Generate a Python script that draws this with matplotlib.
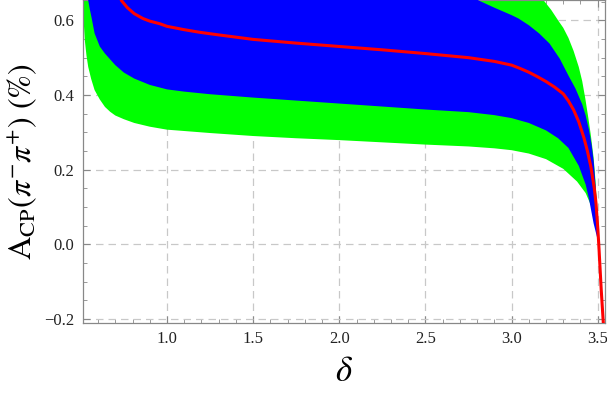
import numpy as np
import matplotlib.pyplot as plt
from matplotlib.ticker import MultipleLocator

plt.rcParams['font.family'] = ['Liberation Serif', 'DejaVu Serif']
plt.rcParams['mathtext.fontset'] = 'stix'

# --- data ---
# central curve (red)
x_mid = [0.70, 0.736, 0.77, 0.81, 0.86, 0.90, 0.958, 1.0, 1.1, 1.19, 1.3, 1.5, 1.75, 2.0,
         2.25, 2.5, 2.75, 2.9, 3.0, 3.05, 3.1, 3.15, 3.2, 3.25, 3.3, 3.33, 3.36, 3.39,
         3.42, 3.44, 3.46, 3.48, 3.49, 3.50, 3.506, 3.52, 3.535]
y_mid = [0.70, 0.653, 0.634, 0.618, 0.605, 0.598, 0.591, 0.584, 0.575, 0.568, 0.561, 0.549,
         0.539, 0.530, 0.521, 0.511, 0.500, 0.490, 0.480, 0.471, 0.461, 0.449, 0.436, 0.421,
         0.403, 0.384, 0.360, 0.328, 0.285, 0.250, 0.208, 0.150, 0.110, 0.045, 0.0, -0.12, -0.23]

# inner band (blue)
x_blue_up = [0.50, 2.70, 2.81, 2.90, 3.0, 3.04, 3.10, 3.16, 3.22, 3.28, 3.33, 3.37, 3.41,
             3.43, 3.45, 3.465, 3.477, 3.487, 3.496, 3.506, 3.535]
y_blue_up = [0.70, 0.68, 0.653, 0.634, 0.614, 0.605, 0.587, 0.565, 0.538, 0.497, 0.452, 0.418,
             0.375, 0.345, 0.305, 0.265, 0.22, 0.16, 0.09, 0.0, -0.23]
x_blue_lo = [0.53, 0.543, 0.552, 0.562, 0.58, 0.61, 0.64, 0.70, 0.75, 0.81, 0.90, 1.0, 1.1,
             1.25, 1.5, 1.75, 2.0, 2.25, 2.5, 2.75, 2.9, 3.0, 3.1, 3.2, 3.27, 3.33, 3.39,
             3.43, 3.45, 3.476, 3.506, 3.535]
y_blue_lo = [0.70, 0.653, 0.630, 0.608, 0.565, 0.530, 0.511, 0.480, 0.460, 0.444, 0.427, 0.415,
             0.409, 0.402, 0.393, 0.385, 0.377, 0.369, 0.361, 0.354, 0.346, 0.338, 0.325, 0.305,
             0.284, 0.258, 0.210, 0.160, 0.120, 0.056, 0.0, -0.23]

# outer band (green)
x_green_up = [0.50, 3.10, 3.187, 3.23, 3.27, 3.30, 3.33, 3.36, 3.39, 3.41, 3.428, 3.445,
              3.46, 3.476, 3.487, 3.496, 3.503, 3.506, 3.535]
y_green_up = [0.70, 0.68, 0.653, 0.628, 0.600, 0.580, 0.553, 0.518, 0.475, 0.437, 0.390, 0.340,
              0.292, 0.232, 0.17, 0.10, 0.04, 0.0, -0.23]
x_green_lo = [0.505, 0.513, 0.523, 0.533, 0.543, 0.56, 0.58, 0.61, 0.64, 0.67, 0.70, 0.75,
              0.81, 0.90, 1.0, 1.25, 1.5, 1.75, 2.0, 2.25, 2.5, 2.75, 2.9, 3.0, 3.1, 3.2,
              3.3, 3.38, 3.43, 3.46, 3.48, 3.495, 3.506, 3.535]
y_green_lo = [0.70, 0.627, 0.547, 0.505, 0.475, 0.443, 0.413, 0.388, 0.368, 0.355, 0.345, 0.335,
              0.325, 0.315, 0.307, 0.298, 0.290, 0.284, 0.279, 0.273, 0.267, 0.262, 0.257, 0.252,
              0.243, 0.228, 0.202, 0.168, 0.137, 0.105, 0.07, 0.03, 0.0, -0.23]

# --- plot ---
fig = plt.figure(figsize=(6.07, 3.95), dpi=100)
ax = fig.add_axes([0.136, 0.182, 0.8615, 0.817])

ax.fill(np.r_[x_green_up, x_green_lo[::-1]], np.r_[y_green_up, y_green_lo[::-1]],
        color='#00ff00', lw=0, zorder=2)
ax.fill(np.r_[x_blue_up, x_blue_lo[::-1]], np.r_[y_blue_up, y_blue_lo[::-1]],
        color='#0000ff', lw=0, zorder=3)
ax.plot(x_mid, y_mid, color='#ff0000', lw=2.2, zorder=4, solid_joinstyle='round')

ax.set_xlim(0.51, 3.545)
ax.set_ylim(-0.2115, 0.6535)

ax.xaxis.set_major_locator(MultipleLocator(0.5))
ax.xaxis.set_minor_locator(MultipleLocator(0.1))
ax.yaxis.set_major_locator(MultipleLocator(0.2))
ax.yaxis.set_minor_locator(MultipleLocator(0.05))
ax.xaxis.set_major_formatter(plt.FuncFormatter(lambda v, p: f"{v:.1f}"))
ax.yaxis.set_major_formatter(plt.FuncFormatter(lambda v, p: f"{v:.1f}".replace('-', '\u2212')))

ax.grid(True, which='major', color='#c8c8c8', ls=(0, (6, 4)), lw=0.9, zorder=1)
for s in ax.spines.values():
    s.set_color('#888888')
    s.set_linewidth(0.9)
ax.tick_params(which='both', direction='in', top=True, right=True, color='#888888',
               labelsize=12, labelcolor='#222222')
ax.tick_params(which='major', length=5, pad=6)
ax.tick_params(which='minor', length=3)

ax.set_xlabel(r'$\delta$', fontsize=25, labelpad=6)
ax.set_ylabel(r'$\mathrm{A}_{\mathrm{CP}}(\pi^{-}\pi^{+})\ (\%)$', fontsize=23, labelpad=4)

plt.savefig('out.png', dpi=100)
